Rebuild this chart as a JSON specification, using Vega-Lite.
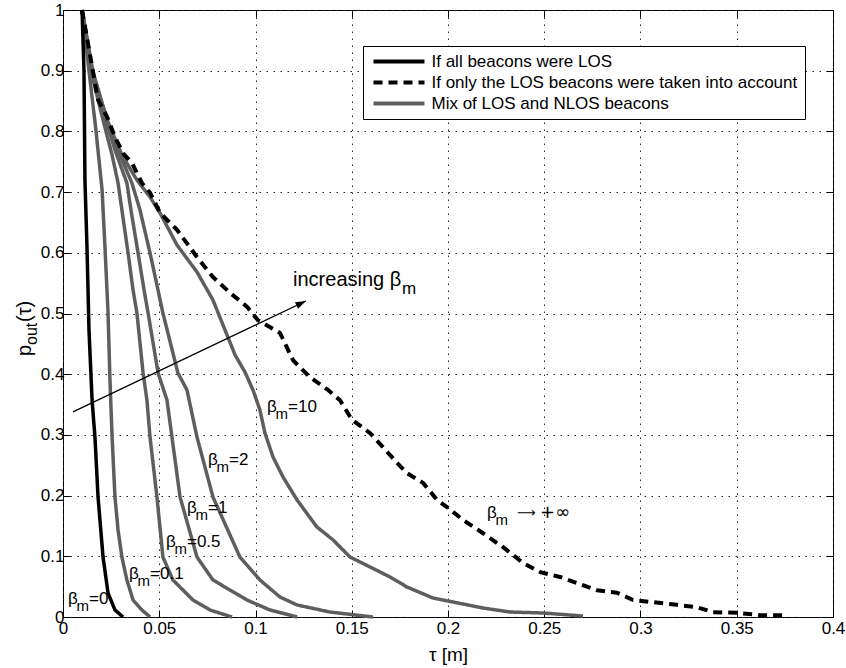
{
  "$schema": "https://vega.github.io/schema/vega-lite/v6.json",
  "width": 770,
  "height": 607,
  "autosize": {"type": "none"},
  "padding": {"left": 63, "top": 10, "right": 13, "bottom": 51},
  "background": "white",
  "config": {
    "font": "Liberation Sans",
    "view": {"stroke": "black", "strokeWidth": 1},
    "axis": {
      "labelFont": "Liberation Sans",
      "labelFontSize": 17,
      "labelColor": "black",
      "tickColor": "black",
      "tickWidth": 1,
      "domain": false,
      "labelFlush": false,
      "labelOverlap": false,
      "titleFont": "Liberation Sans",
      "titleFontWeight": "normal",
      "titleColor": "black",
      "titleFontSize": 19
    },
    "legend": {
      "orient": "none",
      "legendX": 300,
      "legendY": 36,
      "fillColor": "white",
      "strokeColor": "black",
      "padding": 7,
      "labelFont": "Liberation Sans",
      "labelFontSize": 17,
      "labelColor": "black",
      "labelLimit": 0,
      "symbolType": "M-5,0H5",
      "symbolSize": 104,
      "symbolOffset": 20.5,
      "labelOffset": 24,
      "symbolStrokeWidth": 4,
      "rowPadding": 3
    }
  },
  "datasets": {
    "mix": [
      {"beta": "0.1", "x": 0.0099, "y": 1.0},
      {"beta": "0.1", "x": 0.0135, "y": 0.8995},
      {"beta": "0.1", "x": 0.0171, "y": 0.8023},
      {"beta": "0.1", "x": 0.0187, "y": 0.7529},
      {"beta": "0.1", "x": 0.0203, "y": 0.7035},
      {"beta": "0.1", "x": 0.0218, "y": 0.6096},
      {"beta": "0.1", "x": 0.0234, "y": 0.5008},
      {"beta": "0.1", "x": 0.0244, "y": 0.3904},
      {"beta": "0.1", "x": 0.0255, "y": 0.2965},
      {"beta": "0.1", "x": 0.027, "y": 0.1977},
      {"beta": "0.1", "x": 0.0286, "y": 0.1433},
      {"beta": "0.1", "x": 0.0306, "y": 0.0988},
      {"beta": "0.1", "x": 0.0332, "y": 0.061},
      {"beta": "0.1", "x": 0.0364, "y": 0.028},
      {"beta": "0.1", "x": 0.041, "y": 0.0115},
      {"beta": "0.1", "x": 0.0452, "y": 0.0},
      {"beta": "0.5", "x": 0.0099, "y": 1.0},
      {"beta": "0.5", "x": 0.0145, "y": 0.8995},
      {"beta": "0.5", "x": 0.0208, "y": 0.8188},
      {"beta": "0.5", "x": 0.0255, "y": 0.7611},
      {"beta": "0.5", "x": 0.0286, "y": 0.715},
      {"beta": "0.5", "x": 0.0306, "y": 0.6705},
      {"beta": "0.5", "x": 0.0338, "y": 0.5997},
      {"beta": "0.5", "x": 0.0364, "y": 0.5387},
      {"beta": "0.5", "x": 0.0384, "y": 0.5008},
      {"beta": "0.5", "x": 0.0416, "y": 0.402},
      {"beta": "0.5", "x": 0.0436, "y": 0.3575},
      {"beta": "0.5", "x": 0.0452, "y": 0.2965},
      {"beta": "0.5", "x": 0.0488, "y": 0.1977},
      {"beta": "0.5", "x": 0.0519, "y": 0.0988},
      {"beta": "0.5", "x": 0.0571, "y": 0.061},
      {"beta": "0.5", "x": 0.0675, "y": 0.028},
      {"beta": "0.5", "x": 0.0764, "y": 0.0115},
      {"beta": "0.5", "x": 0.0878, "y": 0.0},
      {"beta": "1", "x": 0.0099, "y": 1.0},
      {"beta": "1", "x": 0.0151, "y": 0.8995},
      {"beta": "1", "x": 0.0223, "y": 0.8188},
      {"beta": "1", "x": 0.027, "y": 0.7694},
      {"beta": "1", "x": 0.0332, "y": 0.715},
      {"beta": "1", "x": 0.0353, "y": 0.6705},
      {"beta": "1", "x": 0.039, "y": 0.5997},
      {"beta": "1", "x": 0.0421, "y": 0.5387},
      {"beta": "1", "x": 0.0442, "y": 0.5008},
      {"beta": "1", "x": 0.0494, "y": 0.402},
      {"beta": "1", "x": 0.054, "y": 0.3575},
      {"beta": "1", "x": 0.0566, "y": 0.2965},
      {"beta": "1", "x": 0.0608, "y": 0.1977},
      {"beta": "1", "x": 0.0696, "y": 0.0988},
      {"beta": "1", "x": 0.0779, "y": 0.061},
      {"beta": "1", "x": 0.0956, "y": 0.028},
      {"beta": "1", "x": 0.1075, "y": 0.0115},
      {"beta": "1", "x": 0.1216, "y": 0.0},
      {"beta": "2", "x": 0.0099, "y": 1.0},
      {"beta": "2", "x": 0.0151, "y": 0.8995},
      {"beta": "2", "x": 0.0229, "y": 0.8188},
      {"beta": "2", "x": 0.0296, "y": 0.7611},
      {"beta": "2", "x": 0.0358, "y": 0.715},
      {"beta": "2", "x": 0.04, "y": 0.6705},
      {"beta": "2", "x": 0.0452, "y": 0.5997},
      {"beta": "2", "x": 0.0488, "y": 0.547},
      {"beta": "2", "x": 0.0519, "y": 0.5008},
      {"beta": "2", "x": 0.0597, "y": 0.402},
      {"beta": "2", "x": 0.0644, "y": 0.374},
      {"beta": "2", "x": 0.0696, "y": 0.2965},
      {"beta": "2", "x": 0.0779, "y": 0.1977},
      {"beta": "2", "x": 0.0919, "y": 0.0988},
      {"beta": "2", "x": 0.1023, "y": 0.061},
      {"beta": "2", "x": 0.1127, "y": 0.0329},
      {"beta": "2", "x": 0.1216, "y": 0.0198},
      {"beta": "2", "x": 0.1387, "y": 0.0082},
      {"beta": "2", "x": 0.161, "y": 0.0},
      {"beta": "10", "x": 0.0099, "y": 1.0},
      {"beta": "10", "x": 0.0156, "y": 0.8979},
      {"beta": "10", "x": 0.0229, "y": 0.8188},
      {"beta": "10", "x": 0.0306, "y": 0.7611},
      {"beta": "10", "x": 0.0384, "y": 0.7199},
      {"beta": "10", "x": 0.0452, "y": 0.6919},
      {"beta": "10", "x": 0.0504, "y": 0.6656},
      {"beta": "10", "x": 0.0592, "y": 0.6129},
      {"beta": "10", "x": 0.0696, "y": 0.5684},
      {"beta": "10", "x": 0.0779, "y": 0.5222},
      {"beta": "10", "x": 0.0852, "y": 0.4646},
      {"beta": "10", "x": 0.0894, "y": 0.4316},
      {"beta": "10", "x": 0.0945, "y": 0.4036},
      {"beta": "10", "x": 0.0987, "y": 0.374},
      {"beta": "10", "x": 0.1023, "y": 0.341},
      {"beta": "10", "x": 0.1049, "y": 0.3031},
      {"beta": "10", "x": 0.1091, "y": 0.2636},
      {"beta": "10", "x": 0.1143, "y": 0.2306},
      {"beta": "10", "x": 0.1216, "y": 0.1928},
      {"beta": "10", "x": 0.1319, "y": 0.1483},
      {"beta": "10", "x": 0.1403, "y": 0.1269},
      {"beta": "10", "x": 0.1491, "y": 0.0988},
      {"beta": "10", "x": 0.1595, "y": 0.0824},
      {"beta": "10", "x": 0.1699, "y": 0.0659},
      {"beta": "10", "x": 0.1787, "y": 0.0494},
      {"beta": "10", "x": 0.1922, "y": 0.0313},
      {"beta": "10", "x": 0.2026, "y": 0.0247},
      {"beta": "10", "x": 0.2182, "y": 0.0148},
      {"beta": "10", "x": 0.2322, "y": 0.0082},
      {"beta": "10", "x": 0.2494, "y": 0.0066},
      {"beta": "10", "x": 0.2701, "y": 0.0016}
    ],
    "allLos": [
      {"x": 0.0099, "y": 1.0},
      {"x": 0.0109, "y": 0.8995},
      {"x": 0.0114, "y": 0.72},
      {"x": 0.0125, "y": 0.6046},
      {"x": 0.0135, "y": 0.4728},
      {"x": 0.0151, "y": 0.3575},
      {"x": 0.0166, "y": 0.2965},
      {"x": 0.0182, "y": 0.1977},
      {"x": 0.0208, "y": 0.0988},
      {"x": 0.0234, "y": 0.0395},
      {"x": 0.027, "y": 0.0115},
      {"x": 0.0312, "y": 0.0}
    ],
    "losOnly": [
      {"x": 0.0099, "y": 1.0},
      {"x": 0.0156, "y": 0.898},
      {"x": 0.0182, "y": 0.852},
      {"x": 0.0229, "y": 0.824},
      {"x": 0.027, "y": 0.791},
      {"x": 0.0312, "y": 0.764},
      {"x": 0.0358, "y": 0.748},
      {"x": 0.041, "y": 0.715},
      {"x": 0.0452, "y": 0.699},
      {"x": 0.0504, "y": 0.666},
      {"x": 0.0592, "y": 0.638},
      {"x": 0.0696, "y": 0.593},
      {"x": 0.0779, "y": 0.56},
      {"x": 0.0868, "y": 0.534},
      {"x": 0.0956, "y": 0.511},
      {"x": 0.1013, "y": 0.489},
      {"x": 0.1127, "y": 0.468},
      {"x": 0.1195, "y": 0.423},
      {"x": 0.1283, "y": 0.395},
      {"x": 0.1377, "y": 0.374},
      {"x": 0.1439, "y": 0.357},
      {"x": 0.1501, "y": 0.325},
      {"x": 0.1595, "y": 0.303},
      {"x": 0.1662, "y": 0.28},
      {"x": 0.1735, "y": 0.254},
      {"x": 0.1787, "y": 0.237},
      {"x": 0.187, "y": 0.221},
      {"x": 0.1943, "y": 0.193},
      {"x": 0.1995, "y": 0.181},
      {"x": 0.2078, "y": 0.16},
      {"x": 0.2182, "y": 0.138},
      {"x": 0.2286, "y": 0.115},
      {"x": 0.239, "y": 0.089},
      {"x": 0.2478, "y": 0.074},
      {"x": 0.2582, "y": 0.066},
      {"x": 0.267, "y": 0.056},
      {"x": 0.2774, "y": 0.044},
      {"x": 0.2878, "y": 0.04},
      {"x": 0.2961, "y": 0.028},
      {"x": 0.3049, "y": 0.025},
      {"x": 0.319, "y": 0.02},
      {"x": 0.3294, "y": 0.016},
      {"x": 0.3377, "y": 0.008},
      {"x": 0.3501, "y": 0.007},
      {"x": 0.3621, "y": 0.003},
      {"x": 0.374, "y": 0.003}
    ],
    "arrow": [{"x": 0.0052, "y": 0.338, "x2": 0.1262, "y2": 0.5206}],
    "betaLabels": [
      {"kind": "value", "x": 0.106, "y": 0.3377, "rest": "=10"},
      {"kind": "value", "x": 0.0753, "y": 0.2504, "rest": "=2"},
      {"kind": "value", "x": 0.0644, "y": 0.171, "rest": "=1"},
      {"kind": "value", "x": 0.0535, "y": 0.1153, "rest": "=0.5"},
      {"kind": "value", "x": 0.0343, "y": 0.0626, "rest": "=0.1"},
      {"kind": "value", "x": 0.0026, "y": 0.0214, "rest": "=0"},
      {"kind": "limit", "x": 0.2203, "y": 0.163, "rest": "+∞"}
    ],
    "arrowNote": [{"x": 0.1195, "y": 0.5453, "text": "increasing β"}],
    "yTitle": [{"x": -0.0166, "y": 0.43}]
  },
  "resolve": {"axis": {"x": "independent", "y": "independent"}},
  "layer": [
    {
      "data": {"name": "mix"},
      "mark": {"type": "line", "strokeWidth": 3.5, "strokeCap": "butt", "strokeJoin": "round"},
      "encoding": {
        "x": {
          "field": "x", "type": "quantitative",
          "scale": {"domain": [0, 0.4], "nice": false, "zero": false},
          "axis": {
            "orient": "bottom",
            "values": [0, 0.05, 0.1, 0.15, 0.2, 0.25, 0.3, 0.35, 0.4],
            "format": "~g",
            "grid": true, "gridDash": [1.5, 5.5], "gridColor": "#222", "gridWidth": 1,
            "tickSize": -7, "labelPadding": 10,
            "title": "τ [m]", "titlePadding": 9
          }
        },
        "y": {
          "field": "y", "type": "quantitative",
          "scale": {"domain": [0, 1], "nice": false, "zero": false},
          "axis": {
            "orient": "left",
            "values": [0, 0.1, 0.2, 0.3, 0.4, 0.5, 0.6, 0.7, 0.8, 0.9, 1],
            "format": "~g",
            "grid": true, "gridDash": [1.5, 5.5], "gridColor": "#222", "gridWidth": 1,
            "tickSize": -7, "labelPadding": 6,
            "title": null
          }
        },
        "detail": {"field": "beta", "type": "nominal"},
        "color": {
          "datum": "Mix of LOS and NLOS beacons",
          "type": "nominal",
          "scale": {
            "domain": ["If all beacons were LOS", "If only the LOS beacons were taken into account", "Mix of LOS and NLOS beacons"],
            "range": ["#000000", "#000000", "#5e5e5e"]
          },
          "legend": {"title": null}
        },
        "strokeDash": {
          "datum": "Mix of LOS and NLOS beacons",
          "type": "nominal",
          "scale": {
            "domain": ["If all beacons were LOS", "If only the LOS beacons were taken into account", "Mix of LOS and NLOS beacons"],
            "range": [[1, 0], [9, 6], [1, 0]]
          },
          "legend": {"title": null}
        }
      }
    },
    {
      "data": {"name": "allLos"},
      "mark": {"type": "line", "strokeWidth": 3.5, "strokeCap": "butt", "strokeJoin": "round"},
      "encoding": {
        "x": {
          "field": "x", "type": "quantitative",
          "scale": {"domain": [0, 0.4], "nice": false, "zero": false},
          "axis": {"orient": "top", "values": [0, 0.05, 0.1, 0.15, 0.2, 0.25, 0.3, 0.35, 0.4], "labels": false, "grid": false, "tickSize": -7, "title": null}
        },
        "y": {
          "field": "y", "type": "quantitative",
          "scale": {"domain": [0, 1], "nice": false, "zero": false},
          "axis": {"orient": "right", "values": [0, 0.1, 0.2, 0.3, 0.4, 0.5, 0.6, 0.7, 0.8, 0.9, 1], "labels": false, "grid": false, "tickSize": -7, "title": null}
        },
        "color": {"datum": "If all beacons were LOS", "type": "nominal", "legend": {"title": null}},
        "strokeDash": {"datum": "If all beacons were LOS", "type": "nominal", "legend": {"title": null}}
      }
    },
    {
      "data": {"name": "losOnly"},
      "mark": {"type": "line", "strokeWidth": 4, "strokeCap": "butt", "strokeJoin": "round"},
      "encoding": {
        "x": {"field": "x", "type": "quantitative", "scale": {"domain": [0, 0.4], "nice": false, "zero": false}, "axis": null},
        "y": {"field": "y", "type": "quantitative", "scale": {"domain": [0, 1], "nice": false, "zero": false}, "axis": null},
        "color": {"datum": "If only the LOS beacons were taken into account", "type": "nominal", "legend": {"title": null}},
        "strokeDash": {"datum": "If only the LOS beacons were taken into account", "type": "nominal", "legend": {"title": null}}
      }
    },
    {
      "data": {"name": "arrow"},
      "mark": {"type": "rule", "color": "black", "strokeWidth": 1.3},
      "encoding": {
        "x": {"field": "x", "type": "quantitative", "scale": {"domain": [0, 0.4], "nice": false, "zero": false}, "axis": null},
        "y": {"field": "y", "type": "quantitative", "scale": {"domain": [0, 1], "nice": false, "zero": false}, "axis": null},
        "x2": {"field": "x2"},
        "y2": {"field": "y2"}
      }
    },
    {
      "data": {"name": "arrow"},
      "mark": {"type": "point", "shape": "M0,0L0.75,2.2L-0.75,2.2Z", "size": 90, "angle": 64.5, "filled": true, "color": "black", "opacity": 1},
      "encoding": {
        "x": {"field": "x2", "type": "quantitative", "scale": {"domain": [0, 0.4], "nice": false, "zero": false}, "axis": null},
        "y": {"field": "y2", "type": "quantitative", "scale": {"domain": [0, 1], "nice": false, "zero": false}, "axis": null}
      }
    },
    {
      "data": {"name": "betaLabels"},
      "mark": {"type": "text", "text": "β", "align": "left", "baseline": "alphabetic", "fontSize": 17, "color": "black"},
      "encoding": {
        "x": {"field": "x", "type": "quantitative", "scale": {"domain": [0, 0.4], "nice": false, "zero": false}, "axis": null},
        "y": {"field": "y", "type": "quantitative", "scale": {"domain": [0, 1], "nice": false, "zero": false}, "axis": null}
      }
    },
    {
      "data": {"name": "betaLabels"},
      "mark": {"type": "text", "text": "m", "align": "left", "baseline": "alphabetic", "fontSize": 15, "dx": 8.5, "dy": 7, "color": "black"},
      "encoding": {
        "x": {"field": "x", "type": "quantitative", "scale": {"domain": [0, 0.4], "nice": false, "zero": false}, "axis": null},
        "y": {"field": "y", "type": "quantitative", "scale": {"domain": [0, 1], "nice": false, "zero": false}, "axis": null}
      }
    },
    {
      "data": {"name": "betaLabels"},
      "transform": [{"filter": "datum.kind == 'value'"}],
      "mark": {"type": "text", "align": "left", "baseline": "alphabetic", "fontSize": 17, "dx": 21, "color": "black"},
      "encoding": {
        "x": {"field": "x", "type": "quantitative", "scale": {"domain": [0, 0.4], "nice": false, "zero": false}, "axis": null},
        "y": {"field": "y", "type": "quantitative", "scale": {"domain": [0, 1], "nice": false, "zero": false}, "axis": null},
        "text": {"field": "rest"}
      }
    },
    {
      "data": {"name": "betaLabels"},
      "transform": [{"filter": "datum.kind == 'limit'"}],
      "mark": {"type": "text", "text": "⟶", "align": "left", "baseline": "alphabetic", "font": "DejaVu Sans", "fontSize": 13, "dx": 30, "dy": -1, "color": "black"},
      "encoding": {
        "x": {"field": "x", "type": "quantitative", "scale": {"domain": [0, 0.4], "nice": false, "zero": false}, "axis": null},
        "y": {"field": "y", "type": "quantitative", "scale": {"domain": [0, 1], "nice": false, "zero": false}, "axis": null}
      }
    },
    {
      "data": {"name": "betaLabels"},
      "transform": [{"filter": "datum.kind == 'limit'"}],
      "mark": {"type": "text", "align": "left", "baseline": "alphabetic", "font": "DejaVu Sans", "fontSize": 18, "dx": 53, "color": "black"},
      "encoding": {
        "x": {"field": "x", "type": "quantitative", "scale": {"domain": [0, 0.4], "nice": false, "zero": false}, "axis": null},
        "y": {"field": "y", "type": "quantitative", "scale": {"domain": [0, 1], "nice": false, "zero": false}, "axis": null},
        "text": {"field": "rest"}
      }
    },
    {
      "data": {"name": "arrowNote"},
      "mark": {"type": "text", "align": "left", "baseline": "alphabetic", "fontSize": 20, "color": "black"},
      "encoding": {
        "x": {"field": "x", "type": "quantitative", "scale": {"domain": [0, 0.4], "nice": false, "zero": false}, "axis": null},
        "y": {"field": "y", "type": "quantitative", "scale": {"domain": [0, 1], "nice": false, "zero": false}, "axis": null},
        "text": {"field": "text"}
      }
    },
    {
      "data": {"name": "arrowNote"},
      "mark": {"type": "text", "text": "m", "align": "left", "baseline": "alphabetic", "fontSize": 17, "dx": 109, "dy": 8, "color": "black"},
      "encoding": {
        "x": {"field": "x", "type": "quantitative", "scale": {"domain": [0, 0.4], "nice": false, "zero": false}, "axis": null},
        "y": {"field": "y", "type": "quantitative", "scale": {"domain": [0, 1], "nice": false, "zero": false}, "axis": null}
      }
    },
    {
      "data": {"name": "yTitle"},
      "mark": {"type": "text", "text": "p", "angle": 270, "align": "left", "baseline": "alphabetic", "fontSize": 20, "color": "black"},
      "encoding": {
        "x": {"field": "x", "type": "quantitative", "scale": {"domain": [0, 0.4], "nice": false, "zero": false}, "axis": null},
        "y": {"field": "y", "type": "quantitative", "scale": {"domain": [0, 1], "nice": false, "zero": false}, "axis": null}
      }
    },
    {
      "data": {"name": "yTitle"},
      "mark": {"type": "text", "text": "out", "angle": 270, "align": "left", "baseline": "alphabetic", "fontSize": 16, "dx": 11, "dy": 6, "color": "black"},
      "encoding": {
        "x": {"field": "x", "type": "quantitative", "scale": {"domain": [0, 0.4], "nice": false, "zero": false}, "axis": null},
        "y": {"field": "y", "type": "quantitative", "scale": {"domain": [0, 1], "nice": false, "zero": false}, "axis": null}
      }
    },
    {
      "data": {"name": "yTitle"},
      "mark": {"type": "text", "text": "(τ)", "angle": 270, "align": "left", "baseline": "alphabetic", "fontSize": 20, "dx": 34, "color": "black"},
      "encoding": {
        "x": {"field": "x", "type": "quantitative", "scale": {"domain": [0, 0.4], "nice": false, "zero": false}, "axis": null},
        "y": {"field": "y", "type": "quantitative", "scale": {"domain": [0, 1], "nice": false, "zero": false}, "axis": null}
      }
    }
  ]
}
